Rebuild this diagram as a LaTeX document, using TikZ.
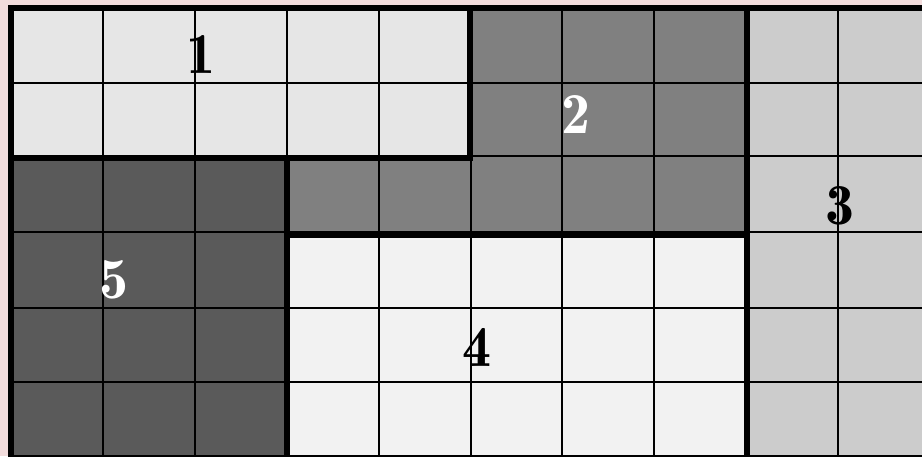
\documentclass[tikz,border=0pt]{standalone}
\definecolor{bgpink}{HTML}{F2DCDC}
\definecolor{regA}{HTML}{E6E6E6}
\definecolor{regB}{HTML}{808080}
\definecolor{regC}{HTML}{CCCCCC}
\definecolor{regD}{HTML}{F2F2F2}
\definecolor{regE}{HTML}{5A5A5A}
\tikzset{
  thinline/.style={draw=black, line width=2pt},
  thickline/.style={draw=black, line width=6pt, line cap=rect},
  lbl/.style={font=\fontsize{58}{62}\fontseries{b}\selectfont, inner sep=0pt},
}
\begin{document}
\begin{tikzpicture}[x=1pt,y=-1pt]
\useasboundingbox (0,0) rectangle (922,456);
\fill[bgpink] (0,0) rectangle (922,456);
% region fills
\fill[regA] (11,8) rectangle (470,156);
\fill[regB] (470,8) -- (747,8) -- (747,232) -- (287,232) -- (287,156) -- (470,156) -- cycle;
\fill[regC] (747,8) rectangle (930,458);
\fill[regD] (287,232) rectangle (747,458);
\fill[regE] (11,156) rectangle (287,458);
% thin grid
\foreach \x in {102.9,194.8,286.7,378.6,470.5,562.4,654.3,746.2,838.1}
  \draw[thinline] (\x,8) -- (\x,458);
\foreach \y in {83,155.5,232,307.5,382}
  \draw[thinline] (11,\y) -- (930,\y);
% thick borders
\draw[thickline] (11,458) -- (11,8) -- (930,8);
\draw[thickline] (11,458) -- (930,458);
\draw[thickline] (11,158) -- (470,158) -- (470,8);
\draw[thickline] (287,158) -- (287,458);
\draw[thickline] (287,235) -- (747,235);
\draw[thickline] (746.5,8) -- (746.5,458);
% labels
\node[lbl, text=black] (l1) at (201,55) {1};
\node[lbl, text=white] (l2) at (576,115) {2};
\node[lbl, text=black] (l3) at (840,206) {3};
\node[lbl, text=black] (l4) at (477,347) {4};
\node[lbl, text=white] (l5) at (114,280) {5};
\end{tikzpicture}
\end{document}
